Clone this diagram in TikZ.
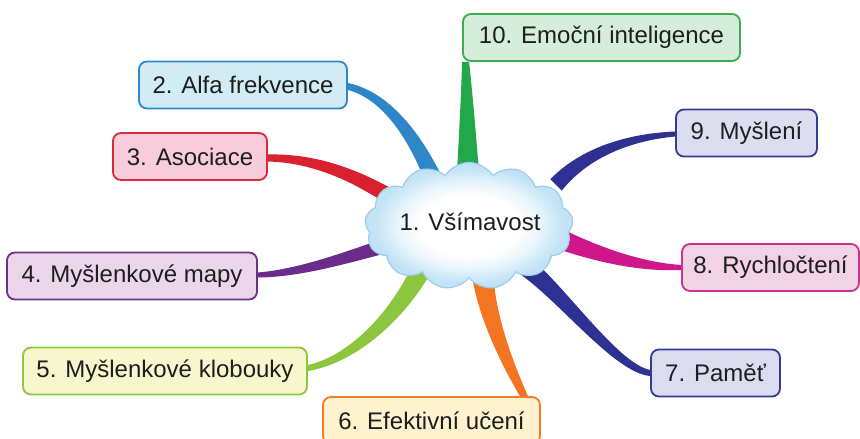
\documentclass[tikz,border=0pt]{standalone}
\usepackage{fontspec}
\setmainfont{Liberation Sans}
\usetikzlibrary{calc,shapes.symbols}
\pgfdeclarelayer{background}
\pgfsetlayers{background,main}
\definecolor{textgray}{HTML}{1E1E1E}
\definecolor{cloudblue}{HTML}{C2E3F5}
\definecolor{cloudmid}{HTML}{E8F5FC}
\definecolor{cloudedge}{HTML}{9ACFEC}
\definecolor{brA}{HTML}{22A84A}\definecolor{bdA}{HTML}{3AAE4E}\definecolor{bfA}{HTML}{D5EEDC}
\definecolor{brB}{HTML}{2F86C6}\definecolor{bdB}{HTML}{2C89C9}\definecolor{bfB}{HTML}{D1ECF4}
\definecolor{brC}{HTML}{D8202F}\definecolor{bdC}{HTML}{D9293C}\definecolor{bfC}{HTML}{F8CCDA}
\definecolor{brD}{HTML}{6A2B8B}\definecolor{bdD}{HTML}{6E2F88}\definecolor{bfD}{HTML}{EAD5EA}
\definecolor{brE}{HTML}{8CC63F}\definecolor{bdE}{HTML}{8DC640}\definecolor{bfE}{HTML}{F8F6CC}
\definecolor{brF}{HTML}{F37422}\definecolor{bdF}{HTML}{F47B2A}\definecolor{bfF}{HTML}{FEF3CE}
\definecolor{brG}{HTML}{2E3192}\definecolor{bdG}{HTML}{333A98}\definecolor{bfG}{HTML}{DCDCF0}
\definecolor{brH}{HTML}{CE178A}\definecolor{bdH}{HTML}{C9338F}\definecolor{bfH}{HTML}{F2D2E5}
\definecolor{brI}{HTML}{2E3192}\definecolor{bdI}{HTML}{343C96}\definecolor{bfI}{HTML}{DDDDF1}
\pgfdeclareradialshading{cloudshade}{\pgfpoint{0bp}{0bp}}{color(0bp)=(white); color(12bp)=(white); color(17bp)=(cloudmid); color(23bp)=(cloudblue); color(50bp)=(cloudblue)}
% tapered branch: colour, start, control 1, control 2, end, half-width offset at start, at end
\newcommand\mybranch[7]{%
  \fill[#1] ($(#2)+(#6)$)
    .. controls ($(#3)+0.6667*(#6)+0.3333*(#7)$) and ($(#4)+0.3333*(#6)+0.6667*(#7)$) .. ($(#5)+(#7)$)
    -- ($(#5)-(#7)$)
    .. controls ($(#4)-0.3333*(#6)-0.6667*(#7)$) and ($(#3)-0.6667*(#6)-0.3333*(#7)$) .. ($(#2)-(#6)$)
    -- cycle;}
\begin{document}
\begin{tikzpicture}[x=1pt,y=-1pt,
  box/.style={draw, rounded corners=8pt, line width=1.8pt, minimum height=47pt,
    inner sep=0pt, text=textgray, font=\fontsize{24}{28}\selectfont},
  cloudnode/.style={cloud, cloud puffs=13, cloud puff arc=115, aspect=1.65,
    minimum width=208pt, minimum height=127pt, inner sep=0pt,
    draw=cloudedge, line width=1.2pt, shade, shading=cloudshade}]
\useasboundingbox (0,0) rectangle (860,439);
% boxes
\node[box, draw=bdA, fill=bfA, minimum width=277pt] (b10) at (601.5,37.5) {10. Emoční inteligence};
\node[box, draw=bdB, fill=bfB, minimum width=208pt] (b2) at (243,85) {2. Alfa frekvence};
\node[box, draw=bdC, fill=bfC, minimum width=154pt] (b3) at (190,156.5) {3. Asociace};
\node[box, draw=bdD, fill=bfD, minimum width=250pt] (b4) at (132,276) {4. Myšlenkové mapy};
\node[box, draw=bdE, fill=bfE, minimum width=284pt] (b5) at (165,371) {5. Myšlenkové klobouky};
\node[box, draw=bdF, fill=bfF, minimum width=217pt] (b6) at (431.5,420.5) {6. Efektivní učení};
\node[box, draw=bdG, fill=bfG, minimum width=129pt] (b7) at (715.5,373) {7. Paměť};
\node[box, draw=bdH, fill=bfH, minimum width=177pt] (b8) at (770.5,267.5) {8. Rychločtení};
\node[box, draw=bdI, fill=bfI, minimum width=141pt] (b9) at (746.5,133) {9. Myšlení};
% central cloud
\node[cloudnode] (c) at (469,226) {};
\node[text=textgray, font=\fontsize{24}{28}\selectfont] (t1) at (470,222) {1. Všímavost};
% branches
\begin{pgfonlayer}{background}
\coordinate (s10) at ($(b10.south west)+(3.5,0)$);
\coordinate (s2) at ($(b2.east)+(0,1.5)$);
\coordinate (s3) at ($(b3.east)+(0,1.5)$);
\coordinate (s4) at ($(b4.east)+(0,-1)$);
\coordinate (s5) at ($(b5.east)+(0,-3)$);
\coordinate (s6) at ($(b6.north east)+(-17,0)$);
\coordinate (s7) at (b7.west);
\coordinate (s8) at (b8.west);
\coordinate (s9) at ($(b9.west)+(0,1)$);
\coordinate (e10) at ($(c)+(-1,-54)$);
\coordinate (e2) at ($(c)+(-33,-41)$);
\coordinate (e3) at ($(c)+(-77,-28)$);
\coordinate (e4) at ($(c)+(-81,19)$);
\coordinate (e5) at ($(c)+(-47,42)$);
\coordinate (e6) at ($(c)+(14,52)$);
\coordinate (e7) at ($(c)+(51,36)$);
\coordinate (e8) at ($(c)+(93,14)$);
\coordinate (e9) at ($(c)+(87,-41)$);
\mybranch{brA}{s10}{467,98}{467.5,135}{e10}{3.5,0}{11,0}
\mybranch{brB}{s2}{385,95}{415,135}{e2}{0,3.5}{-7.8,4.5}
\mybranch{brC}{s3}{310,158}{350,172}{e3}{0,3.5}{-4.2,6.8}
\mybranch{brD}{s4}{300,273}{345,258}{e4}{0,2.5}{2.2,7.1}
\mybranch{brE}{s5}{350,360}{395,320}{e5}{0,3}{8.7,5}
\mybranch{brF}{s6}{508,365}{488,320}{e6}{4,0}{10.5,-1}
\mybranch{brG}{s7}{615,368}{560,290}{e7}{0,3}{-5.7,8.2}
\mybranch{brH}{s8}{640,267}{600,255}{e8}{0,2.5}{-3,9.5}
\mybranch{brI}{s9}{630,137}{585,152}{e9}{0,2.5}{5.7,5.7}
\end{pgfonlayer}
\end{tikzpicture}
\end{document}
